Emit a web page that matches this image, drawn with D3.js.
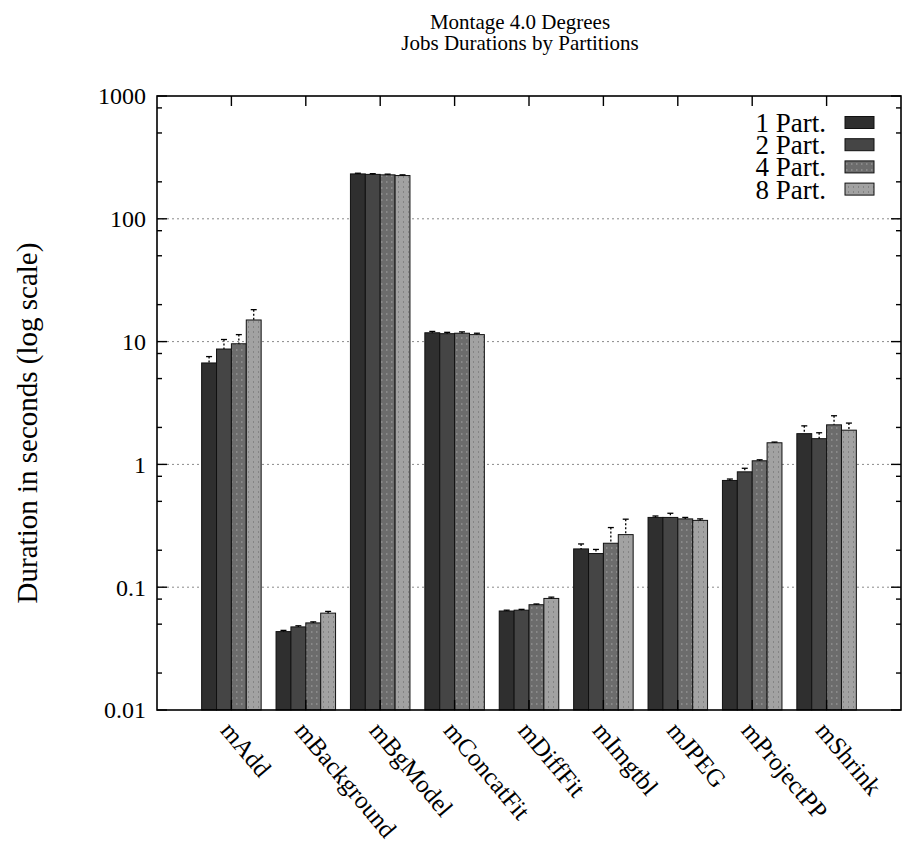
<!DOCTYPE html>
<html>
<head>
<meta charset="utf-8">
<script src="https://cdn.jsdelivr.net/npm/d3@7/dist/d3.min.js"></script>
<style>
  html, body { margin: 0; padding: 0; background: #fff; }
  svg { display: block; }
  text { font-family: "Liberation Serif", "DejaVu Serif", serif; fill: #000; }
</style>
</head>
<body>
<svg id="chart" width="905" height="851"></svg>
<script>
// Montage job durations (seconds) per partition count
const jobs = ["mAdd", "mBackground", "mBgModel", "mConcatFit", "mDiffFit",
              "mImgtbl", "mJPEG", "mProjectPP", "mShrink"];
const seriesNames = ["1 Part.", "2 Part.", "4 Part.", "8 Part."];

const part1 = [6.7, 0.0435, 232, 11.8, 0.064, 0.205, 0.37, 0.74, 1.78];
const part2 = [8.7, 0.0475, 230, 11.6, 0.065, 0.188, 0.37, 0.87, 1.62];
const part4 = [9.6, 0.0512, 228, 11.7, 0.072, 0.228, 0.36, 1.07, 2.1];
const part8 = [15.0, 0.0615, 225, 11.4, 0.081, 0.268, 0.35, 1.5, 1.9];

// standard deviations, drawn upward from each bar top
const err1 = [0.85, 0.001, 3, 0.3, 0.001, 0.02, 0.01, 0.02, 0.28];
const err2 = [1.7, 0.001, 3, 0.3, 0.001, 0.015, 0.03, 0.06, 0.19];
const err4 = [1.8, 0.001, 3, 0.3, 0.001, 0.078, 0.01, 0.02, 0.39];
const err8 = [3.2, 0.002, 3, 0.3, 0.002, 0.09, 0.01, 0.02, 0.27];

const yMajorTicks = [0.01, 0.1, 1, 10, 100, 1000];
const yTickLabels = ["0.01", "0.1", "1", "10", "100", "1000"];
const yMinorSteps = [2, 5, 8];

const titleLines = ["Montage 4.0 Degrees", "Jobs Durations by Partitions"];
const yTitle = "Duration in seconds (log scale)";

const series = [part1, part2, part4, part8];
const errors = [err1, err2, err4, err8];
const fills = ["#2f2f2f", "#454545", "#6c6c6c", "#a2a2a2"];

const svg = d3.select("#chart");
const plotL = 157, plotR = 901, plotT = 96, plotB = 710;

const x = d3.scaleLinear().domain([-1, 9]).range([plotL, plotR]);
const y = d3.scaleLog().domain([0.01, 1000]).range([plotB, plotT]);

// textures for the lighter bars
const defs = svg.append("defs");
const p3 = defs.append("pattern").attr("id", "tex3").attr("patternUnits", "userSpaceOnUse")
  .attr("width", 5).attr("height", 6);
p3.append("rect").attr("width", 5).attr("height", 6).attr("fill", fills[2]);
p3.append("rect").attr("x", 1).attr("y", 1).attr("width", 1.5).attr("height", 2).attr("fill", "#8a8a8a");
const p4 = defs.append("pattern").attr("id", "tex4").attr("patternUnits", "userSpaceOnUse")
  .attr("width", 5).attr("height", 5);
p4.append("rect").attr("width", 5).attr("height", 5).attr("fill", fills[3]);
p4.append("rect").attr("x", 3).attr("y", 1).attr("width", 1).attr("height", 2).attr("fill", "#848484");
const fillRef = [fills[0], fills[1], "url(#tex3)", "url(#tex4)"];

// grid lines
const grid = svg.append("g");
[0.1, 1, 10, 100].forEach(v => {
  grid.append("line")
    .attr("x1", plotL).attr("x2", plotR)
    .attr("y1", y(v)).attr("y2", y(v))
    .attr("stroke", "#8a8a8a").attr("stroke-width", 1)
    .attr("stroke-dasharray", "2,3");
});

// bars
const offsets = [-0.3, -0.1, 0.1, 0.3];
const bw = 0.2;
const barsG = svg.append("g");
series.forEach((vals, s) => {
  barsG.selectAll(null).data(vals).enter().append("rect")
    .attr("x", (d, i) => x(i + offsets[s] - bw / 2))
    .attr("width", (d, i) => x(i + offsets[s] + bw / 2) - x(i + offsets[s] - bw / 2))
    .attr("y", d => y(d))
    .attr("height", d => plotB - y(d))
    .attr("fill", fillRef[s])
    .attr("stroke", "#111").attr("stroke-width", 1);
});

// error bars (upper half with cap)
const errG = svg.append("g").attr("stroke", "#000").attr("stroke-width", 1.3);
series.forEach((vals, s) => {
  vals.forEach((v, i) => {
    const cx = x(i + offsets[s]);
    const hi = y(v + errors[s][i]);
    errG.append("line").attr("x1", cx).attr("x2", cx).attr("y1", hi).attr("y2", y(v))
      .attr("stroke-dasharray", "2,2");
    errG.append("line").attr("x1", cx - 3).attr("x2", cx + 3).attr("y1", hi).attr("y2", hi);
  });
});

// frame
svg.append("rect").attr("x", plotL).attr("y", plotT)
  .attr("width", plotR - plotL).attr("height", plotB - plotT)
  .attr("fill", "none").attr("stroke", "#000").attr("stroke-width", 1.6);

// y ticks (major + minor, mirrored)
const tickG = svg.append("g").attr("stroke", "#000").attr("stroke-width", 1.4);
yMajorTicks.forEach(v => {
  tickG.append("line").attr("x1", plotL).attr("x2", plotL + 10).attr("y1", y(v)).attr("y2", y(v));
  tickG.append("line").attr("x1", plotR).attr("x2", plotR - 10).attr("y1", y(v)).attr("y2", y(v));
});
yMajorTicks.slice(0, -1).forEach(v => {
  yMinorSteps.forEach(m => {
    const yy = y(v * m);
    tickG.append("line").attr("x1", plotL).attr("x2", plotL + 5).attr("y1", yy).attr("y2", yy);
    tickG.append("line").attr("x1", plotR).attr("x2", plotR - 5).attr("y1", yy).attr("y2", yy);
  });
});
// x ticks, mirrored on top
jobs.forEach((j, i) => {
  tickG.append("line").attr("x1", x(i)).attr("x2", x(i)).attr("y1", plotT).attr("y2", plotT + 10);
  tickG.append("line").attr("x1", x(i)).attr("x2", x(i)).attr("y1", plotB).attr("y2", plotB - 10);
});

// y tick labels
svg.append("g").selectAll("text").data(yMajorTicks).enter().append("text")
  .attr("x", plotL - 11).attr("y", d => y(d))
  .attr("dy", "0.35em")
  .attr("text-anchor", "end")
  .style("font-size", "24px")
  .text((d, i) => yTickLabels[i]);

// category labels, rotated
svg.append("g").selectAll("text").data(jobs).enter().append("text")
  .attr("transform", (d, i) => `translate(${x(i) - 12},${plotB + 21}) rotate(50)`)
  .attr("text-anchor", "start")
  .style("font-size", "25px")
  .text(d => d);

// y axis title
svg.append("text")
  .attr("transform", `translate(37,423) rotate(-90)`)
  .attr("text-anchor", "middle")
  .style("font-size", "29px")
  .text(yTitle);

// chart title
titleLines.forEach((t, k) => {
  svg.append("text")
    .attr("x", 520).attr("y", 29 + k * 21)
    .attr("text-anchor", "middle")
    .style("font-size", "21px")
    .text(t);
});

// legend
const legend = svg.append("g");
seriesNames.forEach((n, s) => {
  const cy = 122.5 + s * 22.2;
  legend.append("text")
    .attr("x", 826).attr("y", cy + 9.5)
    .attr("text-anchor", "end")
    .style("font-size", "27px")
    .text(n);
  legend.append("rect")
    .attr("x", 845).attr("y", cy - 6).attr("width", 29).attr("height", 12)
    .attr("fill", fillRef[s]).attr("stroke", "#111").attr("stroke-width", 1);
});
</script>
</body>
</html>
